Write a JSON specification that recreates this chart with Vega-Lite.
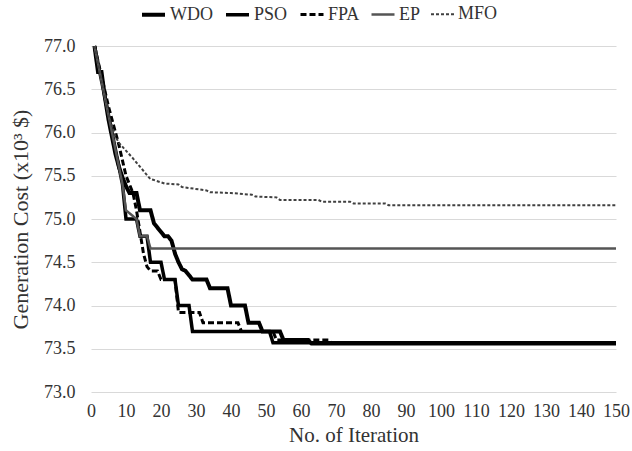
{
  "$schema": "https://vega.github.io/schema/vega-lite/v6.json",
  "autosize": {"type": "none"},
  "width": 525,
  "height": 346,
  "padding": {"left": 91, "top": 46, "right": 16, "bottom": 59},
  "background": "white",
  "config": {
    "view": {"stroke": null},
    "font": "Liberation Serif",
    "axis": {"labelFont": "Liberation Serif", "titleFont": "Liberation Serif", "labelColor": "#333333", "titleColor": "#333333", "titleFontWeight": "normal"},
    "legend": {"labelFont": "Liberation Serif", "labelColor": "#333333"}
  },
  "data": {"values": [
    {"s":"WDO","i":1,"v":77.0},{"s":"WDO","i":2,"v":76.7},{"s":"WDO","i":3,"v":76.7},{"s":"WDO","i":4,"v":76.4},{"s":"WDO","i":5,"v":76.15},{"s":"WDO","i":6,"v":75.95},{"s":"WDO","i":7,"v":75.75},{"s":"WDO","i":8,"v":75.6},{"s":"WDO","i":9,"v":75.48},{"s":"WDO","i":10,"v":75.38},{"s":"WDO","i":11,"v":75.3},{"s":"WDO","i":13,"v":75.3},{"s":"WDO","i":14,"v":75.1},{"s":"WDO","i":17,"v":75.1},{"s":"WDO","i":18,"v":74.95},{"s":"WDO","i":19,"v":74.9},{"s":"WDO","i":20,"v":74.85},{"s":"WDO","i":21,"v":74.8},{"s":"WDO","i":22,"v":74.8},{"s":"WDO","i":23,"v":74.75},{"s":"WDO","i":24,"v":74.6},{"s":"WDO","i":25,"v":74.5},{"s":"WDO","i":26,"v":74.42},{"s":"WDO","i":27,"v":74.4},{"s":"WDO","i":28,"v":74.35},{"s":"WDO","i":29,"v":74.3},{"s":"WDO","i":33,"v":74.3},{"s":"WDO","i":34,"v":74.2},{"s":"WDO","i":39,"v":74.2},{"s":"WDO","i":40,"v":74.0},{"s":"WDO","i":44,"v":74.0},{"s":"WDO","i":45,"v":73.8},{"s":"WDO","i":48,"v":73.8},{"s":"WDO","i":49,"v":73.7},{"s":"WDO","i":54,"v":73.7},{"s":"WDO","i":55,"v":73.6},{"s":"WDO","i":62,"v":73.6},{"s":"WDO","i":63,"v":73.56},{"s":"WDO","i":150,"v":73.56},
    {"s":"PSO","i":1,"v":77.0},{"s":"PSO","i":3,"v":76.6},{"s":"PSO","i":5,"v":76.2},{"s":"PSO","i":7,"v":75.8},{"s":"PSO","i":8,"v":75.6},{"s":"PSO","i":9,"v":75.4},{"s":"PSO","i":10,"v":75.0},{"s":"PSO","i":13,"v":75.0},{"s":"PSO","i":14,"v":74.8},{"s":"PSO","i":16,"v":74.8},{"s":"PSO","i":17,"v":74.5},{"s":"PSO","i":20,"v":74.5},{"s":"PSO","i":21,"v":74.3},{"s":"PSO","i":24,"v":74.3},{"s":"PSO","i":25,"v":74.0},{"s":"PSO","i":28,"v":74.0},{"s":"PSO","i":29,"v":73.7},{"s":"PSO","i":51,"v":73.7},{"s":"PSO","i":52,"v":73.57},{"s":"PSO","i":150,"v":73.57},
    {"s":"FPA","i":1,"v":77.0},{"s":"FPA","i":3,"v":76.65},{"s":"FPA","i":5,"v":76.3},{"s":"FPA","i":7,"v":76.0},{"s":"FPA","i":8,"v":75.85},{"s":"FPA","i":10,"v":75.5},{"s":"FPA","i":12,"v":75.3},{"s":"FPA","i":13,"v":75.1},{"s":"FPA","i":14,"v":74.85},{"s":"FPA","i":15,"v":74.6},{"s":"FPA","i":16,"v":74.45},{"s":"FPA","i":17,"v":74.4},{"s":"FPA","i":19,"v":74.4},{"s":"FPA","i":20,"v":74.3},{"s":"FPA","i":24,"v":74.3},{"s":"FPA","i":25,"v":73.92},{"s":"FPA","i":31,"v":73.92},{"s":"FPA","i":32,"v":73.8},{"s":"FPA","i":42,"v":73.8},{"s":"FPA","i":43,"v":73.7},{"s":"FPA","i":52,"v":73.7},{"s":"FPA","i":53,"v":73.6},{"s":"FPA","i":68,"v":73.6},{"s":"FPA","i":69,"v":73.56},{"s":"FPA","i":150,"v":73.56},
    {"s":"EP","i":1,"v":77.0},{"s":"EP","i":3,"v":76.6},{"s":"EP","i":5,"v":76.2},{"s":"EP","i":7,"v":75.8},{"s":"EP","i":9,"v":75.4},{"s":"EP","i":10,"v":75.1},{"s":"EP","i":13,"v":75.0},{"s":"EP","i":14,"v":74.8},{"s":"EP","i":16,"v":74.8},{"s":"EP","i":17,"v":74.66},{"s":"EP","i":150,"v":74.66},
    {"s":"MFO","i":1,"v":77.0},{"s":"MFO","i":3,"v":76.6},{"s":"MFO","i":5,"v":76.2},{"s":"MFO","i":7,"v":75.95},{"s":"MFO","i":8,"v":75.88},{"s":"MFO","i":12,"v":75.7},{"s":"MFO","i":17,"v":75.46},{"s":"MFO","i":18,"v":75.45},{"s":"MFO","i":21,"v":75.41},{"s":"MFO","i":25,"v":75.4},{"s":"MFO","i":26,"v":75.37},{"s":"MFO","i":33,"v":75.33},{"s":"MFO","i":34,"v":75.31},{"s":"MFO","i":40,"v":75.3},{"s":"MFO","i":46,"v":75.28},{"s":"MFO","i":47,"v":75.26},{"s":"MFO","i":53,"v":75.25},{"s":"MFO","i":54,"v":75.22},{"s":"MFO","i":65,"v":75.22},{"s":"MFO","i":66,"v":75.2},{"s":"MFO","i":74,"v":75.2},{"s":"MFO","i":75,"v":75.18},{"s":"MFO","i":84,"v":75.18},{"s":"MFO","i":85,"v":75.16},{"s":"MFO","i":150,"v":75.16}
  ]},
  "mark": {"type": "line", "interpolate": "linear", "strokeJoin": "miter", "strokeCap": "butt"},
  "encoding": {
    "x": {"field": "i", "type": "quantitative", "scale": {"domain": [0, 150], "nice": false},
      "axis": {"values": [0,10,20,30,40,50,60,70,80,90,100,110,120,130,140,150], "grid": false, "domain": false, "ticks": false, "labelPadding": 10, "labelFontSize": 18, "title": "No. of Iteration", "titleFontSize": 21, "titlePadding": 4, "labelFlush": false}},
    "y": {"field": "v", "type": "quantitative", "scale": {"domain": [73, 77], "nice": false, "zero": false},
      "axis": {"values": [73,73.5,74,74.5,75,75.5,76,76.5,77], "format": ".1f", "grid": true, "gridColor": "#d9d9d9", "gridWidth": 1, "domain": false, "ticks": false, "labelPadding": 16, "labelFontSize": 18, "title": "Generation Cost (x10³ $)", "titleFontSize": 22, "titlePadding": 11}},
    "detail": {"field": "s"},
    "color": {"field": "s", "type": "nominal", "scale": {"domain": ["WDO","PSO","FPA","EP","MFO"], "range": ["#000000","#000000","#000000","#555555","#404040"]},
      "legend": {"title": null, "orient": "none", "legendX": 49, "legendY": -45, "direction": "horizontal", "symbolType": "stroke", "symbolSize": 529, "labelFontSize": 18, "columnPadding": 6, "labelOffset": 3}},
    "strokeDash": {"field": "s", "type": "nominal", "scale": {"domain": ["WDO","PSO","FPA","EP","MFO"], "range": [[1,0],[1,0],[6,3],[1,0],[3,2]]}},
    "strokeWidth": {"field": "s", "type": "nominal", "scale": {"domain": ["WDO","PSO","FPA","EP","MFO"], "range": [4,2,2.5,1.25,1]}}
  }
}
